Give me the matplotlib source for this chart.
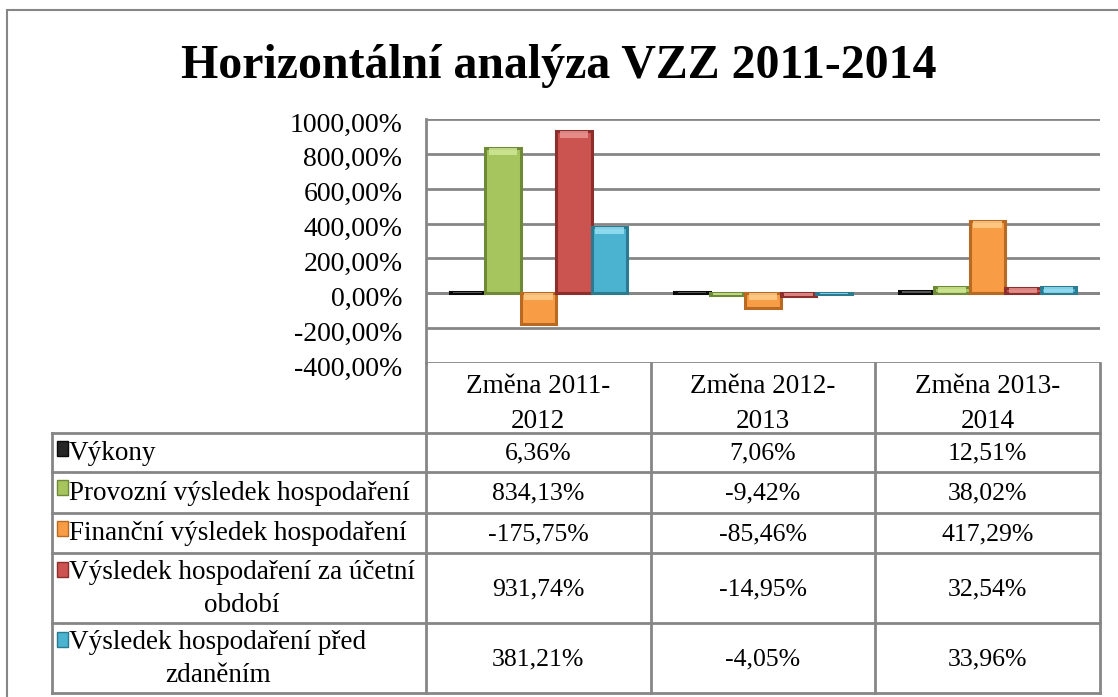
import numpy as np
import matplotlib
matplotlib.use("Agg")
import matplotlib.pyplot as plt
from matplotlib.patches import Rectangle
from matplotlib.transforms import blended_transform_factory, ScaledTranslation

# data
kategorie = ["Změna 2011-\n2012", "Změna 2012-\n2013", "Změna 2013-\n2014"]
serie = ["Výkony",
         "Provozní výsledek hospodaření",
         "Finanční výsledek hospodaření",
         "Výsledek hospodaření za účetní\nobdobí",
         "Výsledek hospodaření před\nzdaněním"]
vykony = [6.36, 7.06, 12.51]
provozni = [834.13, -9.42, 38.02]
financni = [-175.75, -85.46, 417.29]
vh_obdobi = [931.74, -14.95, 32.54]
vh_pred_zdanenim = [381.21, -4.05, 33.96]
hodnoty = [vykony, provozni, financni, vh_obdobi, vh_pred_zdanenim]
barvy = ["#262626", "#a6c55e", "#f89c45", "#cb5450", "#4bb2cf"]
svetle = ["#6a6a6a", "#d3ea9a", "#ffd08f", "#ec9a97", "#9fe3f5"]
okraje = ["#0a0a0a", "#6f8a36", "#b86a22", "#8c2e2b", "#2a7a90"]
yticks = [-400, -200, 0, 200, 400, 600, 800, 1000]

W, H = 1118, 697
plt.rcParams['font.family'] = ['Liberation Serif', 'DejaVu Serif']
fig = plt.figure(figsize=(W / 100, H / 100), dpi=100)


def fx(x):
    return x / W


def fy(y):
    return 1 - y / H


def pct(v):
    return f"{v:.2f}".replace(".", ",") + "%"


seda = "#868686"

# vnejsi ramecek
fig.patches.append(Rectangle((fx(7), fy(705)), fx(1125) - fx(7), fy(10) - fy(705),
                             transform=fig.transFigure, fill=False, edgecolor=seda, lw=1.5))

fig.text(0.5, fy(66), "Horizontální analýza VZZ 2011-2014", ha="center", va="center",
         fontsize=34.5, fontweight="bold")

ax = fig.add_axes([fx(426), fy(363), fx(1100) - fx(426), fy(119) - fy(363)])
ax.set_xlim(0, 3)
ax.set_ylim(-400, 1000)
ax.set_yticks(yticks)
ax.set_yticklabels([pct(v) for v in yticks], fontsize=20)
ax.tick_params(axis="y", length=0, pad=17)
posun = ScaledTranslation(0, -3 / 100, fig.dpi_scale_trans)
for lab in ax.get_yticklabels():
    lab.set_transform(lab.get_transform() + posun)
ax.set_xticks([])
for s in ["top", "right", "bottom"]:
    ax.spines[s].set_visible(False)
ax.spines["left"].set_color(seda)
ax.spines["left"].set_linewidth(2)
ax.grid(axis="y", color=seda, lw=2)
ax.set_axisbelow(True)

# sloupce s jednoduchym "zkosenim"
x = np.arange(3) + 0.5
w = 0.158
bev = 40  # vyska svetleho pruhu v jednotkach osy y
for i, (vals, c, sv, e) in enumerate(zip(hodnoty, barvy, svetle, okraje)):
    xs = x + (i - 2) * w
    ax.bar(xs, vals, w, color=c, edgecolor=e, lw=2.2, zorder=3)
    vals = np.array(vals)
    top = np.maximum(vals, 0)
    vyska = np.minimum(np.abs(vals), bev)
    ax.bar(xs, vyska, w * 0.8, bottom=top - vyska, color=sv, lw=0, zorder=4, alpha=0.8)
ax.axhline(0, color=seda, lw=2, zorder=2)

# datova tabulka
tr = blended_transform_factory(ax.transData, fig.transFigure)
radky = [433, 472, 513, 553, 623, 693]
hlavicka_top = 363

for c in [0, 1, 2, 3]:
    ax.plot([c, c], [fy(hlavicka_top), fy(radky[-1])], transform=tr, color=seda, lw=2, clip_on=False)
for y in radky:
    fig.lines.append(plt.Line2D([fx(52), fx(1100)], [fy(y), fy(y)], transform=fig.transFigure,
                                color=seda, lw=2))
fig.lines.append(plt.Line2D([fx(52), fx(52)], [fy(radky[0]), fy(radky[-1])],
                            transform=fig.transFigure, color=seda, lw=2))

for c, lab in enumerate(kategorie):
    ax.text(c + 0.5, fy(404), lab, transform=tr, ha="center", va="center",
            fontsize=19.5, linespacing=1.56)

for r, (nazev, vals, c, e) in enumerate(zip(serie, hodnoty, barvy, okraje)):
    y0, y1 = radky[r], radky[r + 1]
    ym = (y0 + y1) / 2
    fig.text(fx(69), fy(ym + 1), nazev, ha="left", va="center", fontsize=19.5,
             multialignment="center", linespacing=1.43)
    ky = y0 + 8 if "\n" not in nazev else y0 + 9
    fig.patches.append(Rectangle((fx(57), fy(ky + 15)), fx(11), fy(0) - fy(15),
                                 transform=fig.transFigure, facecolor=c, edgecolor=e, lw=1))
    for k, v in enumerate(vals):
        ax.text(k + 0.5, fy(ym + 1), pct(v), transform=tr,
                ha="center", va="center", fontsize=18.5)

fig.savefig("out.png", dpi=100)
